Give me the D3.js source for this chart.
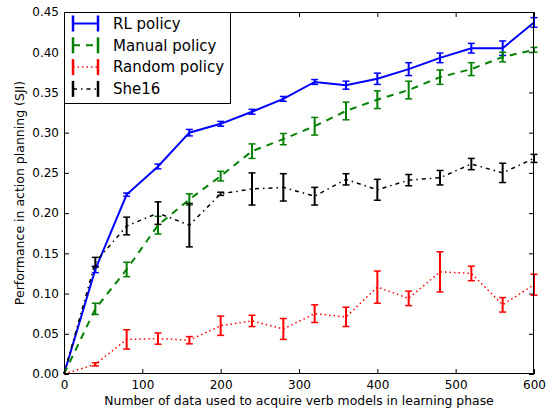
<!DOCTYPE html>
<html><head><meta charset="utf-8">
<script src="https://cdn.jsdelivr.net/npm/d3@7"></script>
<style>body{margin:0;background:#fff}text{font-family:"DejaVu Sans",sans-serif}</style>
</head><body><svg id="c" width="551" height="412"></svg>
<script>
const xs = [0,40,80,120,160,200,240,280,320,360,400,440,480,520,560,600];
const rlMean = [0,0.130,0.223,0.258,0.300,0.311,0.326,0.342,0.363,0.359,0.367,0.379,0.393,0.405,0.405,0.437];
const rlErr  = [0,0.004,0.002,0.003,0.004,0.003,0.003,0.003,0.003,0.005,0.007,0.008,0.006,0.006,0.009,0.006];
const manMean = [0,0.081,0.130,0.185,0.217,0.246,0.277,0.292,0.308,0.327,0.341,0.353,0.369,0.379,0.394,0.403];
const manErr  = [0,0.007,0.009,0.011,0.007,0.006,0.009,0.007,0.011,0.011,0.011,0.011,0.009,0.008,0.006,0.003];
const randMean = [0,0.012,0.043,0.044,0.042,0.060,0.066,0.056,0.075,0.071,0.108,0.094,0.127,0.125,0.086,0.111];
const randErr  = [0,0.002,0.012,0.007,0.0045,0.012,0.007,0.013,0.011,0.012,0.020,0.009,0.025,0.009,0.009,0.013];
const sheMean = [0,0.139,0.184,0.200,0.185,0.224,0.230,0.232,0.221,0.242,0.229,0.241,0.244,0.261,0.250,0.268];
const sheErr  = [0,0.006,0.011,0.014,0.027,0.002,0.020,0.017,0.011,0.007,0.013,0.007,0.009,0.007,0.012,0.005];
const xTicks = [0,100,200,300,400,500,600];
const yTicks = [0,0.05,0.10,0.15,0.20,0.25,0.30,0.35,0.40,0.45];
const series = [
  {name:"RL policy", mean:rlMean, err:rlErr, color:"#0000ff", dash:null, w:2},
  {name:"Manual policy", mean:manMean, err:manErr, color:"#008000", dash:"7,6", w:2},
  {name:"Random policy", mean:randMean, err:randErr, color:"#ff0000", dash:"1.5,3", w:1.5},
  {name:"She16", mean:sheMean, err:sheErr, color:"#000000", dash:"4,4,1.5,4", w:1.5}
];
const L=64,R=534,T=12,B=374;
const x=d3.scaleLinear().domain([0,600]).range([L,R]);
const y=d3.scaleLinear().domain([0,0.45]).range([B,T]);
const svg=d3.select("#c");
const g=svg.append("g");
const tk=5;
const ax=[
  {a:d3.axisBottom(x).tickValues(xTicks).tickFormat(d3.format("d")), tr:`translate(0,${B})`, pad:6, lab:true},
  {a:d3.axisTop(x).tickValues(xTicks), tr:`translate(0,${T})`, pad:6, lab:false},
  {a:d3.axisLeft(y).tickValues(yTicks).tickFormat(d3.format(".2f")), tr:`translate(${L},0)`, pad:5, lab:true},
  {a:d3.axisRight(y).tickValues(yTicks), tr:`translate(${R},0)`, pad:5, lab:false}
];
ax.forEach(o=>{
  const s=g.append("g").attr("transform",o.tr).call(o.a.tickSizeInner(-tk).tickSizeOuter(0).tickPadding(o.pad));
  s.select(".domain").remove();
  s.selectAll("line").attr("stroke","#000").attr("stroke-width",1);
  s.selectAll("text").attr("font-size",12).attr("fill","#000").attr("font-family","DejaVu Sans");
  if(!o.lab) s.selectAll("text").remove();
});
series.forEach(s=>{
  const pts=xs.map((v,i)=>[v,s.mean[i],s.err[i]]);
  const line=d3.line().x(d=>x(d[0])).y(d=>y(d[1]));
  const p=g.append("path").datum(pts).attr("d",line).attr("fill","none")
    .attr("stroke",s.color).attr("stroke-width",s.w);
  if(s.dash) p.attr("stroke-dasharray",s.dash);
  const eb=g.append("g").attr("stroke",s.color).attr("stroke-width",2);
  pts.filter(d=>d[2]>0).forEach(d=>{
    const cx=x(d[0]);
    eb.append("line").attr("x1",cx).attr("x2",cx).attr("y1",y(d[1]-d[2])).attr("y2",y(d[1]+d[2]));
    [d[1]-d[2],d[1]+d[2]].forEach(v=>eb.append("line").attr("x1",cx-3.5).attr("x2",cx+3.5).attr("y1",y(v)).attr("y2",y(v)).attr("stroke-width",1.5));
  });
});
g.append("rect").attr("x",L+0.5).attr("y",T+0.5).attr("width",R-L-1).attr("height",B-T-1)
  .attr("fill","none").attr("stroke","#000").attr("stroke-width",1);
const lg=g.append("g");
lg.append("rect").attr("x",L+0.5).attr("y",T+0.5).attr("width",166).attr("height",91)
  .attr("fill","#fff").attr("stroke","#000").attr("stroke-width",1);
series.forEach((s,i)=>{
  const yy=23.5+i*21.8, x1=73, x2=98;
  const l=lg.append("line").attr("x1",x1).attr("x2",x2).attr("y1",yy).attr("y2",yy)
    .attr("stroke",s.color).attr("stroke-width",s.w);
  if(s.dash) l.attr("stroke-dasharray",s.dash);
  [x1,x2].forEach(cx=>{
    lg.append("line").attr("x1",cx).attr("x2",cx).attr("y1",yy-8).attr("y2",yy+8).attr("stroke",s.color).attr("stroke-width",2.5);
  });
  lg.append("text").attr("x",113).attr("y",yy).attr("dy","0.35em").attr("font-size",15).text(s.name);
});
svg.append("text").attr("x",(L+R)/2).attr("y",405).attr("text-anchor","middle").attr("font-size",12.4)
  .text("Number of data used to acquire verb models in learning phase");
svg.append("text").attr("transform",`translate(24,${(T+B)/2}) rotate(-90)`).attr("text-anchor","middle").attr("font-size",12.5)
  .text("Performance in action planning (SJI)");
</script></body></html>
